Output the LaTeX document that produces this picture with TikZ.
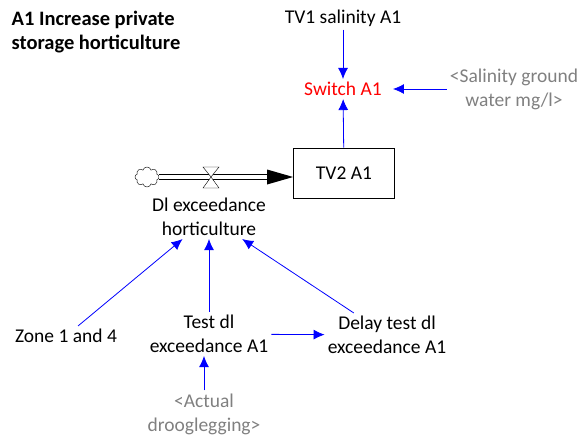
\documentclass[tikz,border=0pt]{standalone}
\usepackage{fontspec}
\setmainfont{Carlito}
\usetikzlibrary{shapes,arrows.meta}
\tikzstyle{var} = [text centered, align=center, inner sep=3pt,
    font=\fontsize{19.5}{24}\selectfont]
\tikzstyle{ghost} = [var, text=black!50]
\tikzstyle{level} = [rectangle, draw, line width=0.8pt, minimum width=101pt,
    minimum height=50pt, var]
\tikzstyle{link} = [draw, blue, line width=0.8pt, -{Latex[length=11pt,width=10pt]}]
\tikzstyle{pipe} = [draw, double, double distance=4pt, line width=0.8pt]

\begin{document}
\begin{tikzpicture}[x=1pt, y=-1pt]
	\useasboundingbox (0,0) rectangle (583,439);

		\node [var, align=left, font=\fontsize{20.5}{24}\selectfont\bfseries] (title) at (96,32) {A1 Increase private\\storage horticulture};

		\node [level] (stock) at (344,173) {TV2 A1};
		\node [var, text=red, inner xsep=11pt] (switch) at (343,89) {Switch A1};
		\node [var] (tv1) at (343,18) {TV1 salinity A1};
		\node [ghost] (salinity) at (514,89) {<Salinity ground\\water mg/l>};

		\path [link] (tv1) -- (switch);
		\path [link] (salinity) -- (switch);
		\path [link] (stock) -- (switch);

		% flow into the stock
		\node [cloud, draw, cloud puffs=8, aspect=1.3, inner sep=0pt,
			minimum width=24pt, minimum height=20pt] (source) at (147,177) {};
		\coordinate (valve) at (211,177);
		\coordinate (inlet) at (stock.west |- valve);
		\path [pipe] (source) -- ([xshift=-24pt]inlet);
		\fill (inlet) -- ++(-26,-7.5) -- ++(0,15) -- cycle;
		\draw [fill=white] (valve) -- ++(-8,-10) -- ++(16,0) -- cycle;
		\draw [fill=white] (valve) -- ++(-8,11) -- ++(16,0) -- cycle;
		\node [var] (dlexc) at (209,217) {Dl exceedance\\horticulture};

		\node [var] (zone) at (66,336) {Zone 1 and 4};
		\node [var] (test) at (209,334) {Test dl\\exceedance A1};
		\node [var] (delay) at (387,335) {Delay test dl\\exceedance A1};
		\node [ghost] (actual) at (204,414) {<Actual\\drooglegging>};

		\path [link] (zone) -- (dlexc);
		\path [link] (test) -- (dlexc);
		\path [link] (delay) -- (dlexc);
		\path [link] (test) -- (delay);
		\path [link] (actual) -- (actual |- test.south);
\end{tikzpicture}
\end{document}
